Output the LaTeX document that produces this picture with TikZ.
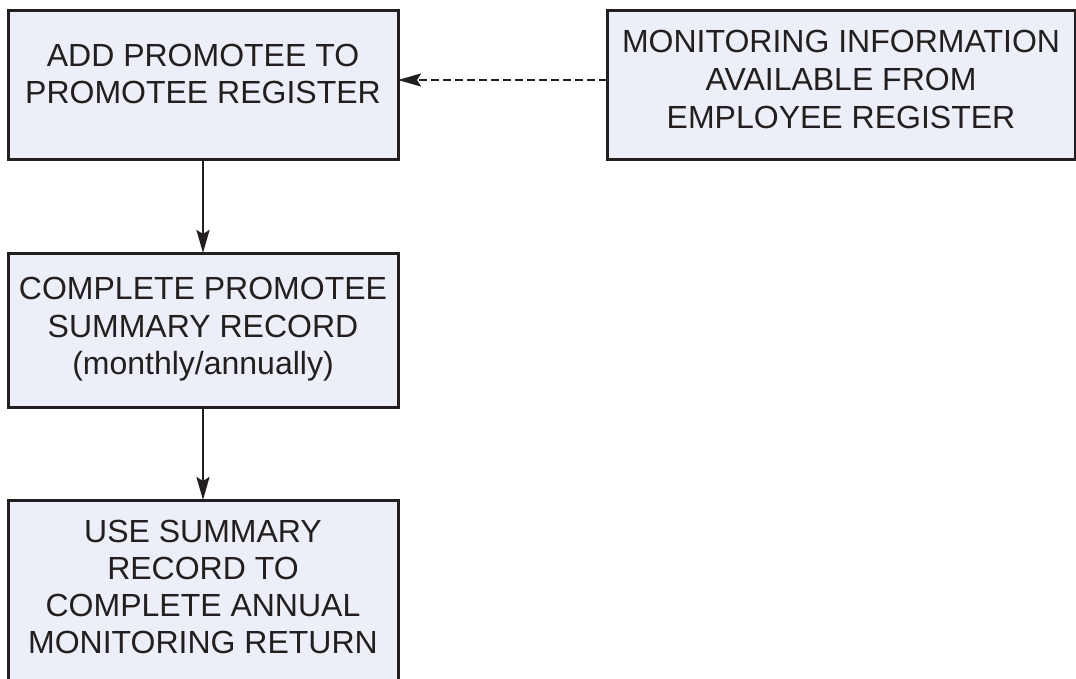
\documentclass[tikz,border=0pt]{standalone}
\usepackage{fontspec}
\setmainfont{Liberation Sans}
\usetikzlibrary{arrows.meta}
\definecolor{boxfill}{RGB}{236,239,247}
\definecolor{ink}{RGB}{35,31,32}
\begin{document}
\begin{tikzpicture}[x=1pt,y=-1pt,
  procbox/.style={rectangle, draw=ink, fill=boxfill, line width=3pt, inner sep=0pt, outer sep=0pt},
  boxtext/.style={anchor=north, inner sep=0pt, align=center, text=ink, font=\fontsize{32}{37}\selectfont},
  flow/.style={draw=ink, line width=2.6pt, -{Stealth[length=23pt,width=13pt,inset=4pt]}},
  dashflow/.style={flow, line width=2.3pt, dash pattern=on 8pt off 4pt},
]
\clip (0,0) rectangle (1076,678);
\fill[white] (0,0) rectangle (1076,678);
% boxes
\node[procbox, minimum width=390pt, minimum height=149pt] (a) at (203,84.5) {};
\node[procbox, minimum width=468pt, minimum height=149pt] (b) at (841,84.5) {};
\node[procbox, minimum width=390pt, minimum height=154pt] (c) at (203,330) {};
\node[procbox, minimum width=390pt, minimum height=200pt] (d) at (203,600) {};
% texts
\node[boxtext] (at) at (203,44) {ADD PROMOTEE TO\\PROMOTEE REGISTER};
\node[boxtext, font=\fontsize{32}{38}\selectfont] (bt) at (841,30) {MONITORING INFORMATION\\AVAILABLE FROM\\EMPLOYEE REGISTER};
\node[boxtext, font=\fontsize{32}{37.5}\selectfont] (ct) at (203,277) {COMPLETE PROMOTEE\\SUMMARY RECORD\\(monthly/annually)};
\node[boxtext] (dt) at (203,520) {USE SUMMARY\\RECORD TO\\COMPLETE ANNUAL\\MONITORING RETURN};
% connectors
\draw[flow] (a.south) -- (c.north);
\draw[flow] (c.south) -- (d.north);
\draw[dashflow] ([yshift=4.5pt]b.west) -- ([yshift=4.5pt]a.east);
\end{tikzpicture}
\end{document}
